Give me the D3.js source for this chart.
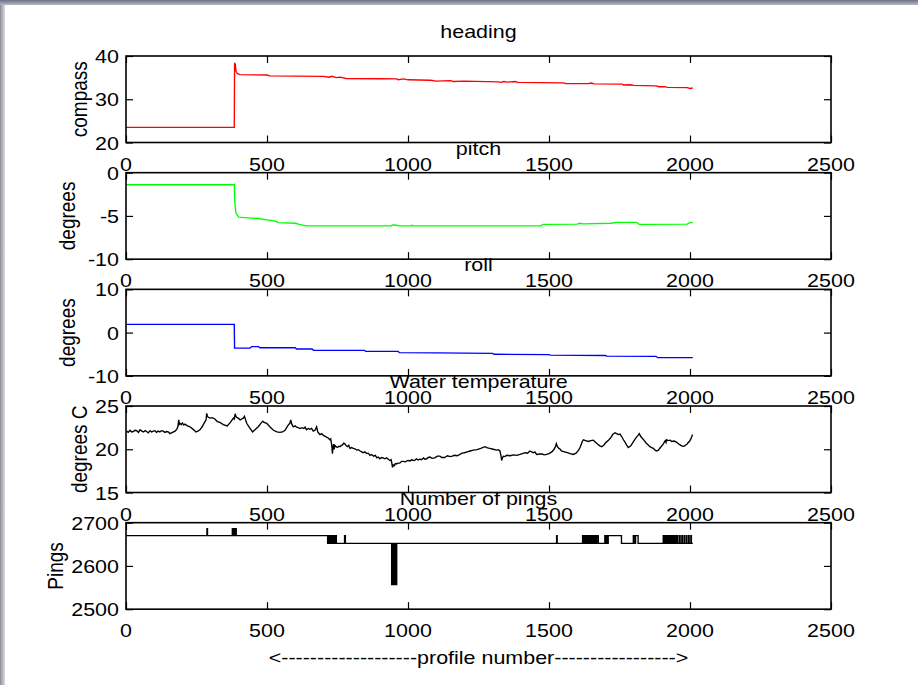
<!DOCTYPE html>
<html>
<head>
<meta charset="utf-8">
<script src="https://cdn.jsdelivr.net/npm/d3@7"></script>
<style>
  html, body { margin: 0; padding: 0; background: #ffffff; }
  svg { display: block; }
  text { font-family: "Liberation Sans", Arial, Helvetica, sans-serif; fill: #000; }
</style>
</head>
<body>
<svg id="fig" width="918" height="685"></svg>
<script>
// ---- shared x axis: profile number ----
const profileDomain = [0, 2500];
const profileTicks = [0, 500, 1000, 1500, 2000, 2500];
const xLabelText = "<-------------------profile number----------------->";

// ---- panel descriptions ----
const panelTitles = ["heading", "pitch", "roll", "Water temperature", "Number of pings"];
const panelYLabels = ["compass", "degrees", "degrees", "degrees C", "Pings"];
const panelYDomains = [[20, 40], [-10, 0], [-10, 10], [15, 25], [2500, 2700]];
const panelYTicks = [[20, 30, 40], [-10, -5, 0], [-10, 0, 10], [15, 20, 25], [2500, 2600, 2700]];
const panelColors = ["#ff0000", "#00ff00", "#0000ff", "#000000", "#000000"];

// ---- series: [profile, value] ----
const headingSeries = [
  [1, 23.5], [384, 23.5], [385, 38.4], [388, 38.0], [390, 36.5], [395, 35.9], [405, 35.7],
  [500, 35.6], [510, 35.4], [700, 35.3], [720, 35.1], [730, 35.3], [745, 35.0], [760, 35.1],
  [780, 34.8], [900, 34.75], [960, 34.7], [965, 34.5], [985, 34.7], [1000, 34.5], [1080, 34.4],
  [1100, 34.2], [1150, 34.3], [1160, 34.1], [1200, 34.2], [1320, 34.0], [1330, 33.9],
  [1340, 34.1], [1350, 33.95], [1380, 34.1], [1390, 33.9], [1550, 33.8], [1560, 33.6],
  [1640, 33.6], [1650, 33.75], [1660, 33.55], [1760, 33.5], [1765, 33.3], [1790, 33.35],
  [1800, 33.2], [1880, 33.1], [1890, 32.9], [1910, 32.9], [1920, 32.75], [1990, 32.7],
  [2000, 32.5], [2010, 32.6]
];

const pitchSeries = [
  [1, -1.4], [384, -1.4], [386, -3.5], [390, -4.7], [400, -5.15], [420, -5.2], [470, -5.3],
  [500, -5.45], [530, -5.6], [540, -5.78], [600, -5.85], [615, -5.97], [640, -6.15],
  [940, -6.15], [945, -6.05], [960, -6.08], [965, -6.15], [1010, -6.15], [1015, -6.08],
  [1020, -6.15], [1470, -6.15], [1480, -5.97], [1600, -5.95], [1610, -5.85], [1620, -5.92],
  [1720, -5.85], [1740, -5.74], [1810, -5.74], [1820, -5.97], [1990, -5.95], [2000, -5.78],
  [2010, -5.78]
];

const rollSeries = [
  [1, 1.9], [384, 1.9], [385, -3.6], [440, -3.6], [445, -3.25], [470, -3.25], [475, -3.5],
  [600, -3.5], [605, -3.8], [660, -3.8], [665, -4.1], [845, -4.1], [850, -4.35], [965, -4.35],
  [970, -4.65], [1100, -4.7], [1300, -4.8], [1305, -5.0], [1500, -5.1], [1505, -5.2],
  [1700, -5.3], [1705, -5.45], [1880, -5.5], [1885, -5.8], [2010, -5.8]
];

const temperatureSeries = [
  [2, 22.1], [8, 21.95], [14, 22.2], [20, 22.0], [26, 22.05], [32, 22.2], [38, 22.15],
  [44, 21.95], [50, 22.25], [56, 22.1], [62, 22.0], [68, 22.15], [73, 22.05], [79, 21.9],
  [85, 22.15], [91, 22.0], [97, 22.1], [103, 22.15], [108, 21.95], [114, 22.1], [120, 22.0],
  [126, 22.15], [132, 22.1], [138, 21.95], [144, 22.05], [150, 22.0], [156, 21.8],
  [165, 21.95], [174, 22.1], [180, 22.3], [184, 22.6], [187, 23.4], [189, 22.9], [191, 23.0],
  [196, 22.85], [200, 23.05], [205, 22.8], [209, 22.9], [218, 22.7], [227, 22.6], [238, 22.3],
  [248, 22.0], [255, 22.1], [262, 22.25], [270, 22.6], [280, 23.2], [284, 23.4], [286, 24.15],
  [289, 23.8], [292, 23.7], [298, 23.6], [306, 23.65], [315, 23.5], [324, 23.2], [333, 23.1],
  [345, 22.85], [359, 22.7], [370, 23.1], [381, 23.6], [384, 23.5], [387, 24.1], [390, 23.8],
  [392, 23.7], [398, 23.6], [405, 23.4], [410, 23.5], [416, 23.6], [420, 23.8], [428, 23.0],
  [438, 22.5], [449, 22.0], [459, 22.3], [469, 22.6], [478, 23.0], [485, 23.25], [490, 23.1],
  [499, 23.0], [510, 22.6], [523, 22.2], [535, 22.0], [546, 21.95], [555, 22.0], [564, 22.2],
  [575, 22.8], [581, 23.0], [584, 23.4], [588, 22.9], [593, 22.6], [600, 22.7], [605, 22.55],
  [611, 22.5], [617, 22.4], [624, 22.5], [630, 22.4], [635, 22.55], [640, 22.25], [646, 22.4],
  [652, 22.3], [658, 22.4], [664, 22.1], [670, 22.2], [676, 22.6], [680, 22.0], [688, 21.7],
  [694, 21.8], [700, 21.6], [706, 21.5], [711, 21.4], [717, 21.3], [723, 21.1], [726, 21.2],
  [728, 20.8], [730, 20.3], [732, 19.5], [734, 20.2], [736, 20.6], [738, 20.0], [741, 20.45],
  [745, 20.3], [750, 20.2], [755, 20.35], [759, 20.3], [764, 20.45], [768, 20.5], [772, 20.7],
  [777, 20.6], [781, 20.4], [786, 20.3], [790, 20.45], [794, 20.1], [800, 20.2], [806, 20.1],
  [812, 20.05], [818, 19.9], [824, 19.95], [830, 19.8], [836, 19.7], [841, 19.6], [847, 19.7],
  [853, 19.5], [859, 19.55], [865, 19.3], [871, 19.4], [878, 19.2], [884, 19.3], [890, 19.0],
  [895, 19.1], [900, 18.9], [906, 19.05], [912, 19.0], [918, 18.9], [924, 19.0], [930, 18.85],
  [936, 18.7], [940, 18.8], [942, 18.5], [945, 17.9], [948, 18.2], [952, 18.1], [955, 18.35],
  [959, 18.3], [965, 18.4], [971, 18.4], [977, 18.6], [983, 18.6], [990, 18.55], [1000, 18.7],
  [1008, 18.65], [1013, 18.8], [1019, 18.7], [1025, 18.75], [1030, 18.9], [1036, 18.75],
  [1042, 18.85], [1048, 18.8], [1055, 19.0], [1060, 18.85], [1066, 18.9], [1072, 19.05],
  [1078, 19.1], [1085, 18.95], [1095, 19.0], [1104, 19.2], [1113, 19.2], [1120, 19.05],
  [1130, 19.05], [1140, 19.25], [1149, 19.15], [1157, 19.2], [1165, 19.3], [1175, 19.25],
  [1184, 19.4], [1192, 19.55], [1200, 19.6], [1210, 19.7], [1220, 19.8], [1232, 19.9],
  [1245, 19.95], [1258, 20.1], [1273, 20.3], [1282, 20.15], [1290, 20.1], [1302, 20.0],
  [1314, 19.9], [1320, 19.95], [1326, 19.8], [1330, 19.2], [1332, 18.7], [1335, 19.0],
  [1338, 19.2], [1344, 19.15], [1350, 19.3], [1362, 19.25], [1375, 19.35], [1386, 19.3],
  [1397, 19.4], [1406, 19.5], [1415, 19.6], [1424, 19.55], [1432, 19.8], [1438, 19.7],
  [1445, 19.6], [1450, 19.7], [1456, 19.4], [1466, 19.45], [1475, 19.45], [1483, 19.35],
  [1491, 19.4], [1500, 19.5], [1510, 19.7], [1518, 20.0], [1523, 20.3], [1526, 20.65],
  [1530, 20.3], [1535, 20.1], [1540, 20.0], [1544, 19.8], [1555, 19.7], [1565, 19.6],
  [1575, 19.5], [1586, 19.4], [1596, 19.55], [1605, 19.9], [1610, 20.2], [1615, 20.6],
  [1618, 20.9], [1622, 21.1], [1630, 21.0], [1640, 20.9], [1648, 21.0], [1657, 21.05],
  [1665, 20.8], [1672, 20.6], [1680, 20.4], [1687, 20.3], [1695, 20.5], [1702, 20.8],
  [1710, 21.0], [1718, 21.3], [1726, 21.7], [1734, 21.9], [1740, 21.8], [1746, 21.7],
  [1752, 21.75], [1757, 21.5], [1764, 21.1], [1770, 20.8], [1775, 20.5], [1781, 20.2],
  [1790, 20.4], [1800, 20.9], [1810, 21.4], [1816, 21.6], [1820, 21.8], [1825, 21.5],
  [1830, 21.3], [1838, 21.0], [1845, 20.7], [1852, 20.5], [1858, 20.3], [1864, 20.2],
  [1870, 20.1], [1876, 19.9], [1882, 19.8], [1888, 19.9], [1895, 20.2], [1905, 20.6],
  [1912, 21.0], [1915, 20.8], [1917, 21.1], [1922, 21.0], [1930, 21.05], [1935, 20.9],
  [1944, 20.95], [1953, 20.8], [1960, 20.6], [1965, 20.5], [1970, 20.4], [1976, 20.35],
  [1981, 20.4], [1985, 20.5], [1990, 20.6], [1994, 20.8], [1998, 20.9], [2003, 21.2],
  [2009, 21.7]
];

const pingSeries = [
  [1, 2670], [287, 2686], [289, 2670],
  [377, 2686], [379, 2670], [380, 2686], [382, 2670], [383, 2686], [385, 2670], [386, 2686],
  [388, 2670], [389, 2686], [391, 2670],
  [715, 2652], [716, 2670], [718, 2652], [719, 2670], [721, 2652], [722, 2670], [724, 2652],
  [725, 2670], [727, 2652], [728, 2670], [730, 2652], [731, 2670], [733, 2652], [734, 2670],
  [736, 2652], [737, 2670], [739, 2652], [740, 2670], [742, 2652], [743, 2670], [746, 2652],
  [775, 2670], [778, 2652],
  [942, 2557], [943, 2652], [944, 2557], [945, 2652], [946, 2557], [947, 2652], [948, 2557],
  [949, 2652], [950, 2557], [951, 2652], [952, 2557], [953, 2652], [954, 2557], [955, 2652],
  [956, 2557], [957, 2652], [958, 2557], [960, 2652],
  [1527, 2670], [1529, 2652],
  [1619, 2670], [1621, 2652], [1622, 2670], [1624, 2652], [1625, 2670], [1627, 2652],
  [1628, 2670], [1630, 2652], [1631, 2670], [1633, 2652], [1634, 2670], [1636, 2652],
  [1637, 2670], [1639, 2652], [1640, 2670], [1642, 2652], [1643, 2670], [1645, 2652],
  [1646, 2670], [1648, 2652], [1649, 2670], [1651, 2652], [1652, 2670], [1655, 2652],
  [1657, 2670], [1660, 2652], [1661, 2670], [1664, 2652], [1666, 2670], [1669, 2652],
  [1670, 2670], [1675, 2652],
  [1698, 2670], [1700, 2652], [1701, 2670], [1703, 2652], [1704, 2670], [1706, 2652],
  [1707, 2670], [1709, 2652], [1710, 2670], [1757, 2652],
  [1799, 2670], [1804, 2652], [1807, 2670], [1816, 2652],
  [1905, 2670], [1907, 2652], [1908, 2670], [1910, 2652], [1911, 2670], [1913, 2652],
  [1914, 2670], [1916, 2652], [1917, 2670], [1919, 2652], [1920, 2670], [1922, 2652],
  [1923, 2670], [1925, 2652], [1926, 2670], [1929, 2652], [1931, 2670], [1934, 2652],
  [1935, 2670], [1939, 2652], [1941, 2670], [1945, 2652], [1947, 2670], [1951, 2652],
  [1955, 2670], [1957, 2652], [1963, 2670], [1965, 2652], [1971, 2670], [1973, 2652],
  [1979, 2670], [1981, 2652], [1987, 2670], [1989, 2652], [1995, 2670], [1997, 2652],
  [2003, 2670], [2005, 2652], [2010, 2652]
];

const panelSeries = [headingSeries, pitchSeries, rollSeries, temperatureSeries, pingSeries];
const panelCurves = [d3.curveLinear, d3.curveLinear, d3.curveLinear, d3.curveLinear, d3.curveStepAfter];

// ---- layout ----
const W = 918, H = 685;
const axLeft = 126, axRight = 831;
const axTop0 = 56, axStep = 116.67, axHeight = 86.5;
const tickLen = 7;
const fontSize = 19;
const stretchX = 1.13;   // the figure font is set slightly wide

const svg = d3.select("#fig");

// window frame shading along the top and left edges
const defs = svg.append("defs");
const gTop = defs.append("linearGradient").attr("id", "frameTop").attr("x1", 0).attr("y1", 0).attr("x2", 0).attr("y2", 1);
gTop.append("stop").attr("offset", "0%").attr("stop-color", "#6e7286");
gTop.append("stop").attr("offset", "100%").attr("stop-color", "#b5b8c6");
const gLeft = defs.append("linearGradient").attr("id", "frameLeft").attr("x1", 0).attr("y1", 0).attr("x2", 1).attr("y2", 0);
gLeft.append("stop").attr("offset", "0%").attr("stop-color", "#8d8d96");
gLeft.append("stop").attr("offset", "100%").attr("stop-color", "#dcdce0");

svg.append("rect").attr("x", 0).attr("y", 0).attr("width", W).attr("height", H).attr("fill", "#ffffff");
svg.append("rect").attr("x", 0).attr("y", 0).attr("width", 5).attr("height", H).attr("fill", "url(#frameLeft)");
svg.append("rect").attr("x", 0).attr("y", 0).attr("width", W).attr("height", 5).attr("fill", "url(#frameTop)");

// text helper: places a label at (px, py) with the wide figure font
function label(parent, px, py, str, anchor, rotate) {
  return parent.append("text")
    .attr("transform", `translate(${px},${py}) scale(${stretchX},1)` + (rotate ? ` rotate(${rotate})` : ""))
    .attr("text-anchor", anchor)
    .attr("font-size", fontSize)
    .text(str);
}

const x = d3.scaleLinear().domain(profileDomain).range([axLeft, axRight]);

panelTitles.forEach((title, i) => {
  const top = axTop0 + i * axStep;
  const bottom = top + axHeight;
  const y = d3.scaleLinear().domain(panelYDomains[i]).range([bottom, top]);
  const g = svg.append("g");

  // data line
  const line = d3.line()
    .x(d => x(d[0]))
    .y(d => y(d[1]))
    .curve(panelCurves[i]);
  g.append("path")
    .datum(panelSeries[i])
    .attr("d", line)
    .attr("fill", "none")
    .attr("stroke", panelColors[i])
    .attr("stroke-width", 1.35)
    .attr("stroke-linejoin", "miter");

  // axes: ticks point inward on all four sides
  const axStyle = sel => {
    sel.select(".domain").remove();
    sel.selectAll("line").attr("stroke", "#000").attr("stroke-width", 1.2);
    sel.selectAll("text").remove();
  };
  g.append("g").attr("transform", `translate(0,${bottom})`)
    .call(d3.axisBottom(x).tickValues(profileTicks).tickSizeInner(-tickLen).tickSizeOuter(0))
    .call(axStyle);
  g.append("g").attr("transform", `translate(0,${top})`)
    .call(d3.axisTop(x).tickValues(profileTicks).tickSizeInner(-tickLen).tickSizeOuter(0))
    .call(axStyle);
  g.append("g").attr("transform", `translate(${axLeft},0)`)
    .call(d3.axisLeft(y).tickValues(panelYTicks[i]).tickSizeInner(-tickLen).tickSizeOuter(0))
    .call(axStyle);
  g.append("g").attr("transform", `translate(${axRight},0)`)
    .call(d3.axisRight(y).tickValues(panelYTicks[i]).tickSizeInner(-tickLen).tickSizeOuter(0))
    .call(axStyle);

  // box
  g.append("rect")
    .attr("x", axLeft).attr("y", top)
    .attr("width", axRight - axLeft).attr("height", bottom - top)
    .attr("fill", "none").attr("stroke", "#000").attr("stroke-width", 1.6);

  // x tick labels
  profileTicks.forEach(t => label(g, x(t), bottom + 28, t, "middle"));

  // y tick labels
  panelYTicks[i].forEach(t => label(g, axLeft - 7, y(t) + 7, t, "end"));

  // y label placed left of the widest tick label
  const widest = d3.max(panelYTicks[i], d => String(d).length);
  const labelX = axLeft - 7 - widest * 12 - 8;
  label(g, labelX, (top + bottom) / 2, panelYLabels[i], "middle", -90);

  // title
  label(g, (axLeft + axRight) / 2, top - 18, title, "middle");
});

// x label under the last panel
label(svg, (axLeft + axRight) / 2, axTop0 + 4 * axStep + axHeight + 55, xLabelText, "middle");
</script>
</body>
</html>
